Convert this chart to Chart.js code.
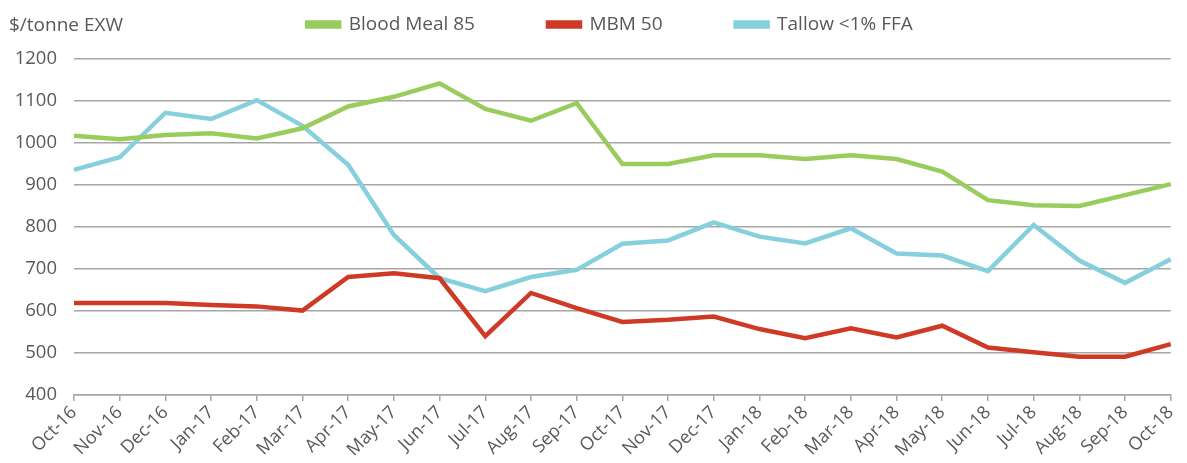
<!DOCTYPE html>
<html>
<head>
<meta charset="utf-8">
<script src="https://cdn.jsdelivr.net/npm/chart.js@4/dist/chart.umd.min.js"></script>
<style>
  html, body { margin: 0; padding: 0; background: #fff; }
  #wrap { width: 1187px; height: 463px; }
</style>
</head>
<body>
<div id="wrap"><canvas id="priceChart"></canvas></div>
<script>
// months on the x axis
const months = ['Oct-16', 'Nov-16', 'Dec-16', 'Jan-17', 'Feb-17', 'Mar-17', 'Apr-17', 'May-17',
  'Jun-17', 'Jul-17', 'Aug-17', 'Sep-17', 'Oct-17', 'Nov-17', 'Dec-17', 'Jan-18', 'Feb-18',
  'Mar-18', 'Apr-18', 'May-18', 'Jun-18', 'Jul-18', 'Aug-18', 'Sep-18', 'Oct-18'];

// $/tonne EXW
const bloodMeal85 = [1017, 1009, 1019, 1023, 1011, 1035, 1087, 1110, 1142, 1081, 1053, 1095,
  950, 950, 971, 971, 962, 971, 962, 932, 864, 852, 850, 876, 902];
const mbm50 = [619, 619, 619, 614, 611, 601, 681, 690, 678, 540, 643, 607,
  574, 579, 587, 557, 535, 559, 537, 565, 513, 502, 491, 491, 521];
const tallow = [936, 966, 1072, 1057, 1102, 1041, 948, 781, 678, 647, 681, 698,
  760, 768, 811, 777, 761, 797, 737, 732, 695, 805, 720, 667, 723];

const yTicks = [400, 500, 600, 700, 800, 900, 1000, 1100, 1200];

const textColor = '#595959';
const gridColor = '#a6a6a6';
const fontFamily = '"Open Sans", sans-serif';
const legendGap = 73;

// unit label in the top-left corner, and legend placement
const unitLabel = {
  id: 'unitLabel',
  beforeInit(chart) {
    const fit = chart.legend.fit;
    chart.legend.fit = function () {
      fit.call(this);
      this.height = 51;
    };
  },
  afterLayout(chart) {
    // legend row sits at y ~24 even though item spacing is wide
    const lg = chart.legend;
    lg.top = 27 - legendGap - 12;
    lg.bottom = 59;
    lg.left += 20;
    lg.right += 20;
  },
  afterDraw(chart) {
    const ctx = chart.ctx;
    ctx.save();
    ctx.font = '19px ' + fontFamily;
    ctx.fillStyle = textColor;
    ctx.textBaseline = 'middle';
    ctx.textAlign = 'left';
    ctx.fillText('$/tonne EXW', 9, 26);
    ctx.restore();
  }
};

function line(label, data, color) {
  return {
    label: label,
    data: data,
    borderColor: color,
    backgroundColor: color,
    borderWidth: 4.5,
    pointRadius: 0,
    tension: 0,
    fill: false
  };
}

new Chart(document.getElementById('priceChart'), {
  type: 'line',
  data: {
    labels: months,
    datasets: [
      line('Blood Meal 85', bloodMeal85, '#99cc5c'),
      line('MBM 50', mbm50, '#cf3a27'),
      line('Tallow <1% FFA', tallow, '#86cfdd')
    ]
  },
  options: {
    responsive: true,
    maintainAspectRatio: false,
    animation: false,
    layout: { padding: { left: 0, right: 7, top: 8, bottom: 0 } },
    plugins: {
      legend: {
        position: 'top',
        labels: {
          boxWidth: 32,
          boxHeight: 4,
          padding: legendGap,
          color: textColor,
          font: { family: fontFamily, size: 19 }
        }
      },
      tooltip: { enabled: false }
    },
    scales: {
      x: {
        afterFit(scale) { scale.height = 68; },
        grid: {
          drawOnChartArea: false,
          drawTicks: true,
          tickLength: 6,
          color: gridColor,
          lineWidth: 1.5
        },
        border: { color: gridColor, width: 1.5 },
        ticks: {
          color: textColor,
          maxRotation: 45,
          minRotation: 45,
          autoSkip: false,
          padding: 1,
          font: { family: fontFamily, size: 18 }
        }
      },
      y: {
        min: yTicks[0],
        max: yTicks[yTicks.length - 1],
        afterFit(scale) { scale.width = 74; },
        afterBuildTicks(scale) { scale.ticks = yTicks.map(v => ({ value: v })); },
        grid: {
          drawTicks: false,
          color: gridColor,
          lineWidth: 1.5
        },
        border: { display: false },
        ticks: {
          color: textColor,
          padding: 17,
          font: { family: fontFamily, size: 18.5 },
          callback: v => String(v)
        }
      }
    }
  },
  plugins: [unitLabel]
});
</script>
</body>
</html>
